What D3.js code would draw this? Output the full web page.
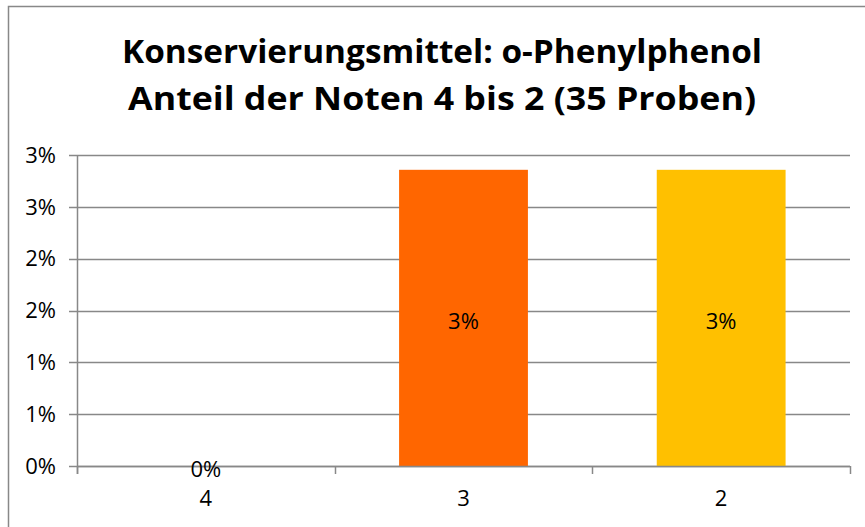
<!DOCTYPE html>
<html><head><meta charset="utf-8">
<script src="https://cdn.jsdelivr.net/npm/d3@7"></script>
<style>body{margin:0;background:#fff}svg{display:block}</style>
</head><body>
<script>
const categories = ["4", "3", "2"];
const values = [0, 1/35, 1/35];
const colors = ["#FF6600", "#FF6600", "#FFC000"];
const yTicks = [0, 0.005, 0.01, 0.015, 0.02, 0.025, 0.03];
const titleLines = ["Konservierungsmittel: o-Phenylphenol", "Anteil der Noten 4 bis 2 (35 Proben)"];

const W = 865, H = 527;
const svg = d3.select("body").append("svg").attr("width", W).attr("height", H);
const font = "'Open Sans', 'Liberation Sans', sans-serif";

svg.append("rect").attr("x", 8.5).attr("y", 6.5).attr("width", W + 10).attr("height", H + 10)
  .attr("fill", "none").attr("stroke", "#888").attr("stroke-width", 1.5);

const L = 77, R = 850, T = 155, B = 466;
const x = d3.scaleBand().domain(categories).range([L, R]).paddingInner(0.5).paddingOuter(0.25);
const y = d3.scaleLinear().domain([0, 0.03]).range([B, T]);
const fmt = d => Math.round(d * 100) + "%";

// gridlines
svg.append("g").selectAll("line").data(yTicks).join("line")
  .attr("x1", L - 8).attr("x2", R).attr("y1", d => Math.round(y(d)) + 0.5).attr("y2", d => Math.round(y(d)) + 0.5)
  .attr("stroke", "#888").attr("stroke-width", 1.5);

// y axis line
svg.append("line").attr("x1", L + 0.5).attr("x2", L + 0.5).attr("y1", T).attr("y2", B + 8)
  .attr("stroke", "#888").attr("stroke-width", 1.5);

// y labels
svg.append("g").selectAll("text").data(yTicks).join("text")
  .attr("x", 56).attr("y", d => y(d)).attr("dy", "0.35em").attr("text-anchor", "end")
  .attr("font-family", font).attr("font-size", 22).attr("fill", "#000").text(fmt);

// bars
svg.append("g").selectAll("rect").data(values).join("rect")
  .attr("x", (d, i) => x(categories[i])).attr("width", x.bandwidth())
  .attr("y", d => y(d)).attr("height", d => B - y(d)).attr("fill", (d, i) => colors[i]);

// x axis line + ticks
svg.append("line").attr("x1", L).attr("x2", R).attr("y1", B + 0.5).attr("y2", B + 0.5)
  .attr("stroke", "#888").attr("stroke-width", 1.5);
const step = x.step();
const boundaries = categories.map((c, i) => x(c) - x.paddingInner() * step / 2).concat([R]);
svg.append("g").selectAll("line").data(boundaries).join("line")
  .attr("x1", d => Math.round(d) + 0.5).attr("x2", d => Math.round(d) + 0.5).attr("y1", B).attr("y2", B + 8)
  .attr("stroke", "#888").attr("stroke-width", 1.5);

// x labels
svg.append("g").selectAll("text").data(categories).join("text")
  .attr("x", d => x(d) + x.bandwidth() / 2).attr("y", 506).attr("text-anchor", "middle")
  .attr("font-family", font).attr("font-size", 22).attr("fill", "#000").text(d => d);

// data labels
svg.append("g").selectAll("text").data(values).join("text")
  .attr("x", (d, i) => x(categories[i]) + x.bandwidth() / 2)
  .attr("y", d => (y(d) + B) / 2 + 3).attr("dy", "0.35em").attr("text-anchor", "middle")
  .attr("font-family", font).attr("font-size", 22).attr("fill", "#000").text(fmt);

// title
const tw = [640, 628];
titleLines.forEach((t, i) => {
  const el = svg.append("text").attr("x", 442).attr("y", 63 + i * 47).attr("text-anchor", "middle")
    .attr("font-family", font).attr("font-weight", "bold").attr("font-size", 33).attr("fill", "#000").text(t);
  el.attr("textLength", tw[i]).attr("lengthAdjust", "spacingAndGlyphs");
});
</script>
</body></html>
